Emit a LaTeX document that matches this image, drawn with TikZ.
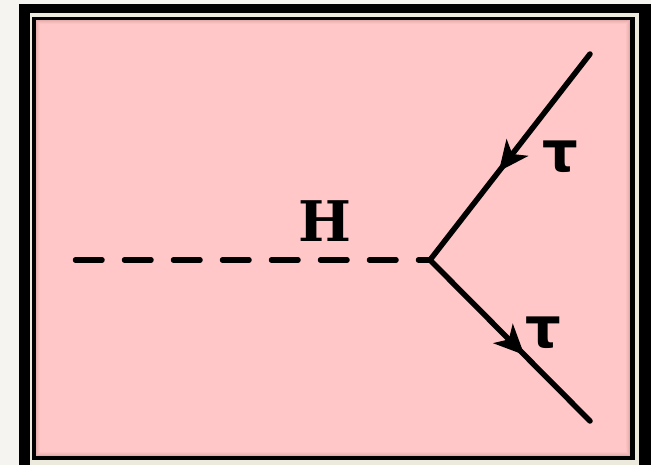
\documentclass[tikz,border=0pt]{standalone}
\usepackage{fontspec}
\newfontfamily\labelfont{DejaVu Serif}
\newfontfamily\taufont{DejaVu Sans}
\usetikzlibrary{arrows.meta,decorations.markings}
\definecolor{pagebg}{RGB}{245,244,240}
\definecolor{creamline}{RGB}{236,234,220}
\definecolor{pinkfill}{RGB}{255,199,199}
\definecolor{pinkshade}{RGB}{200,140,140}
\tikzset{
  fermion/.style={line width=5.5pt, line cap=round, postaction={decorate},
    decoration={markings, mark=at position #1 with {\arrow{Stealth[length=30pt,width=27pt,inset=8pt]}}}},
  scalar/.style={line width=5.5pt, line cap=round, dash pattern=on 26.5pt off 22.5pt},
  lbl/.style={inner sep=0pt, font=\labelfont\bfseries}
}
\begin{document}
\begin{tikzpicture}[x=1pt,y=-1pt]
\useasboundingbox (0,0) rectangle (651,465);
\fill[pagebg] (0,0) rectangle (651,465);
\fill[black] (19,4) rectangle (651,465);
\fill[creamline] (30,13) rectangle (639,465);
\fill[black] (32,17) rectangle (635,460);
\fill[pinkfill] (36,20) rectangle (630,456);
% inner shadow
\foreach \i/\o in {0.5/0.45,1.5/0.3,2.5/0.18,3.5/0.08}{
  \draw[pinkshade, opacity=\o, line width=1pt] (36+\i,20+\i) rectangle (630-\i,456-\i);
}
\coordinate (v) at (430,260);
\coordinate (a) at (590,54);
\coordinate (b) at (590,421);
\coordinate (c) at (75.5,260);
\draw[scalar] (c) -- (v);
\draw[fermion=0.57] (a) -- (v);
\draw[fermion=0.59] (v) -- (b);
\node[lbl, font=\labelfont\bfseries\fontsize{56}{60}\selectfont] (H) at (325,221) {H};
\node[lbl, font=\taufont\bfseries\fontsize{56}{60}\selectfont] (t1) at (560,157) {τ};
\node[lbl, font=\taufont\bfseries\fontsize{56}{60}\selectfont] (t2) at (543,333) {τ};
\end{tikzpicture}
\end{document}
